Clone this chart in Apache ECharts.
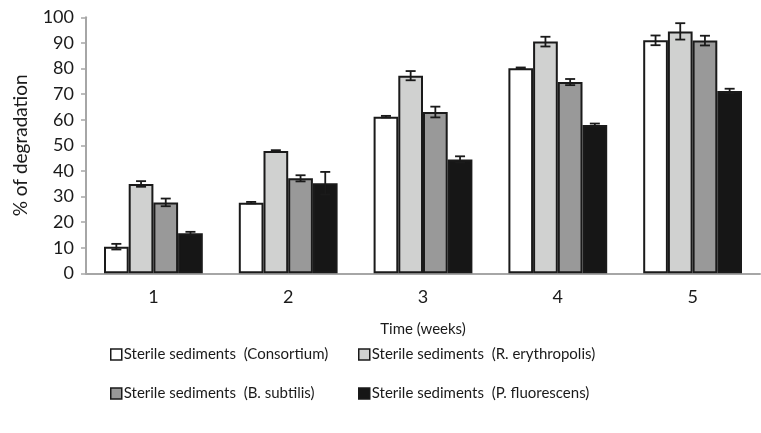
<!DOCTYPE html>
<html>
<head>
<meta charset="utf-8">
<script src="https://cdn.jsdelivr.net/npm/echarts@6/dist/echarts.min.js"></script>
<style>html,body{margin:0;padding:0;background:#fff;}#c{width:761px;height:433px;}</style>
</head>
<body>
<div id="c"></div>
<script>
var categories = ['1', '2', '3', '4', '5'];
var seriesNames = [
  'Sterile sediments  (Consortium)',
  'Sterile sediments  (R. erythropolis)',
  'Sterile sediments  (B. subtilis)',
  'Sterile sediments  (P. fluorescens)'
];
var consortium = [10.4, 27.6, 61.2, 80.1, 91.0];
var rErythropolis = [34.9, 47.8, 77.2, 90.5, 94.5];
var bSubtilis = [27.7, 37.1, 63.0, 74.7, 90.9];
var pFluorescens = [15.6, 35.2, 44.5, 57.9, 71.2];
var errConsortium = [1.1, 0.3, 0.3, 0.3, 1.9];
var errRErythropolis = [1.1, 0.3, 1.8, 1.9, 3.2];
var errBSubtilis = [1.5, 1.2, 2.1, 1.2, 1.9];
var errPFluorescens = [0.6, 4.4, 1.2, 0.6, 0.9];
var yTicks = [0, 10, 20, 30, 40, 50, 60, 70, 80, 90, 100];

var values = [consortium, rErythropolis, bSubtilis, pFluorescens];
var errors = [errConsortium, errRErythropolis, errBSubtilis, errPFluorescens];
var colors = ['#ffffff', '#d0d1d0', '#999999', '#161616'];
var FONT = 'Lato';
var BAR_W = 24.7;
var TXT = '#1a1a1a';

var series = [];
values.forEach(function (vals, s) {
  series.push({
    name: seriesNames[s],
    type: 'bar',
    data: vals,
    barWidth: BAR_W,
    barGap: '0%',
    itemStyle: { color: colors[s], borderColor: '#1a1a1a', borderWidth: 2 },
    emphasis: { disabled: true },
    z: 2
  });
});
values.forEach(function (vals, s) {
  var d = vals.map(function (v, i) { return [i, v - errors[s][i], v + errors[s][i]]; });
  series.push({
    type: 'custom',
    name: seriesNames[s] + ' err',
    data: d,
    z: 5,
    silent: true,
    renderItem: function (params, api) {
      var ci = api.value(0);
      var lo = api.coord([ci, api.value(1)]);
      var hi = api.coord([ci, api.value(2)]);
      var x = lo[0] + (s - 1.5) * BAR_W;
      var cap = 5;
      var st = { stroke: '#1a1a1a', lineWidth: 1.8 };
      return {
        type: 'group',
        children: [
          { type: 'line', shape: { x1: x, y1: lo[1], x2: x, y2: hi[1] }, style: st },
          { type: 'line', shape: { x1: x - cap, y1: lo[1], x2: x + cap, y2: lo[1] }, style: st },
          { type: 'line', shape: { x1: x - cap, y1: hi[1], x2: x + cap, y2: hi[1] }, style: st }
        ]
      };
    },
    encode: { x: 0, y: [1, 2] }
  });
});

var legendPos = [
  { left: 105, top: 342 },
  { left: 353, top: 342 },
  { left: 105, top: 381 },
  { left: 353, top: 381 }
];
var legends = seriesNames.map(function (n, i) {
  return {
    data: [n],
    left: legendPos[i].left,
    top: legendPos[i].top,
    icon: 'rect',
    itemWidth: 11,
    itemHeight: 11,
    itemGap: 0,
    selectedMode: false,
    itemStyle: { borderColor: '#1a1a1a', borderWidth: 1.5 },
    textStyle: { fontFamily: FONT, fontSize: 15, color: TXT, padding: [0, 0, 0, -3] }
  };
});

var chart = echarts.init(document.getElementById('c'));
chart.setOption({
  animation: false,
  backgroundColor: '#ffffff',
  grid: { left: 86, right: 1, top: 17.3, bottom: 159.7 },
  legend: legends,
  xAxis: {
    type: 'category',
    data: categories,
    name: 'Time (weeks)',
    nameLocation: 'middle',
    nameGap: 48,
    nameTextStyle: { fontFamily: FONT, fontSize: 15, color: TXT },
    axisLine: { lineStyle: { color: '#a6a6a6', width: 2 } },
    axisTick: { show: false },
    axisLabel: { fontFamily: FONT, fontSize: 18, color: TXT, margin: 15 }
  },
  yAxis: {
    type: 'value',
    min: yTicks[0],
    max: yTicks[yTicks.length - 1],
    interval: 10,
    name: '% of degradation',
    nameLocation: 'middle',
    nameGap: 56,
    nameTextStyle: { fontFamily: FONT, fontSize: 19, color: TXT },
    axisLine: { show: true, lineStyle: { color: '#a6a6a6', width: 2 } },
    axisTick: { show: true, length: 5, lineStyle: { color: '#a6a6a6', width: 1.5 } },
    splitLine: { show: false },
    axisLabel: { fontFamily: FONT, fontSize: 18, color: TXT, margin: 12 }
  },
  series: series
});
</script>
</body>
</html>
